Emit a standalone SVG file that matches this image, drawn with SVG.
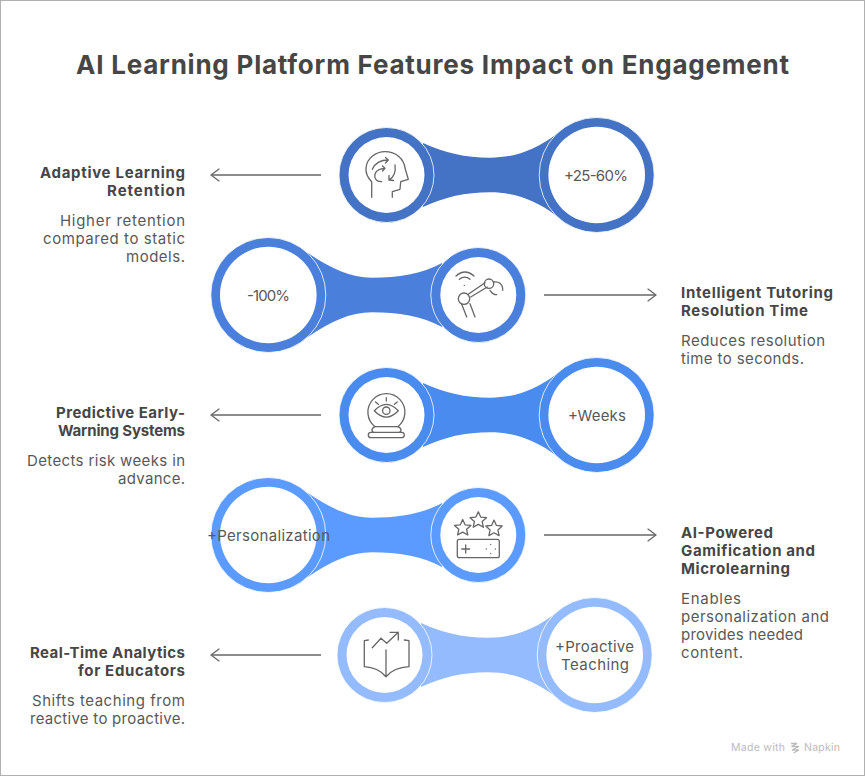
<svg xmlns="http://www.w3.org/2000/svg" width="865" height="776" viewBox="0 0 865 776">
<style>
text{font-family:Inter,"Open Sans","Liberation Sans",sans-serif;font-size:15px;fill:#595959}
.title{font-size:26px;font-weight:700;fill:#464646}
.h{font-weight:700;fill:#464646}
.e{text-anchor:end}
.foot{font-size:10.5px;fill:#bbb}
.ic{fill:none;stroke:#666;stroke-width:1.3;stroke-linecap:round;stroke-linejoin:round}
.arrow{fill:none;stroke:#666;stroke-width:1.3;marker-end:url(#head)}
.edge{stroke:#fff;stroke-width:.8}
.hole{fill:#fff}
.a{fill:#4472c4}.b{fill:#4a80dc}.d{fill:#4a8bf0}.f{fill:#5b9bff}.g{fill:#93bbfd}
</style>
<defs>
<marker id="head" viewBox="0 0 10 14" refX="9.4" refY="7" markerWidth="10" markerHeight="14" markerUnits="userSpaceOnUse" orient="auto"><path d="M1 .8 9.4 7 1 13.200" fill="none" stroke="#666" stroke-width="1.300"/></marker>
</defs>
<rect width="865" height="776" fill="#fff"/>
<rect x=".5" y=".5" width="864" height="775" fill="none" stroke="#b0b0b0"/>
<text class="title" x="76" y="74" textLength="713">AI Learning Platform Features Impact on Engagement</text>

<g id="connectors">
<path class="a" d="M423 143C445 153 465 157.700 490 157.700C515 157.700 535 150 557 134V216C535 200 515 192.300 490 192.300C465 192.300 445 197 423 207Z"/>
<path class="b" d="M308 253C330 268 350 277.700 372 277.700C398 277.700 422 274 442 263V327C422 316 398 312.300 372 312.300C350 312.300 330 322 308 337Z"/>
<path class="d" d="M423 383C445 393 465 397.700 490 397.700C515 397.700 535 390 557 374V456C535 440 515 432.300 490 432.300C465 432.300 445 437 423 447Z"/>
<path class="f" d="M308 493C330 508 350 517.700 372 517.700C398 517.700 422 514 442 503V567C422 556 398 552.300 372 552.300C350 552.300 330 562 308 577Z"/>
<path class="g" d="M421 623C443 633 463 637.700 488 637.700C513 637.700 533 630 555 614V696C533 680 513 672.300 488 672.300C463 672.300 443 677 421 687Z"/>
<path class="arrow" d="M321 175H211"/>
<path class="arrow" d="M544 295H656"/>
<path class="arrow" d="M321 415H211"/>
<path class="arrow" d="M544 535H656"/>
<path class="arrow" d="M321 655H211"/>
</g>

<g id="node-adaptive">
<circle class="a edge" cx="386.500" cy="175" r="47.500"/><circle class="hole" cx="386.500" cy="175" r="38"/>
<circle class="a edge" cx="596.700" cy="175" r="57.500"/><circle class="hole" cx="596.700" cy="175" r="48.300"/>
<path class="ic" d="M371.700 197.300V181.700C367 177 365.500 173 366 168C367 158 376 151.700 385 151.700C396 151.700 404 159 405 168L408.300 179.300L400.700 181.700L400 189.300L392.300 191.700V197.300"/>
<path class="ic" d="M372.300 169.300C375 163 381 160 388.300 160M385.500 157.500 388.300 160 385.500 163M395 165C396 172 394 177 389 180M389 175.500V180L393.500 180.500M381.700 181.700C376 182 374 178 375 174C376 171 380 168.500 385 168.300M382.500 166 385 168.300 382.500 171"/>
<text x="564" y="181" textLength="64">+25-60%</text>
<text class="h e" x="185" y="178" textLength="145">Adaptive Learning</text>
<text class="h e" x="185" y="196" textLength="78">Retention</text>
<text class="e" x="185" y="226" textLength="125">Higher retention</text>
<text class="e" x="185" y="244" textLength="142">compared to static</text>
<text class="e" x="185" y="262" textLength="59">models.</text>
</g>

<g id="node-tutoring">
<circle class="b edge" cx="268.300" cy="295" r="57.500"/><circle class="hole" cx="268.300" cy="295" r="48.300"/>
<circle class="b edge" cx="478.300" cy="295" r="47.500"/><circle class="hole" cx="478.300" cy="295" r="38"/>
<path class="ic" d="M456 276Q465 268 474 276M459.300 279.300Q465 275 470 279.300M464.300 285.300V285.400"/>
<circle class="ic" cx="464" cy="298.700" r="5.700"/><circle class="ic" cx="489" cy="283.700" r="4.700"/>
<path class="ic" d="M468.300 294.300 485 282.700M470.700 297 487.300 287M461.700 304.300 466.700 317M470 303.700 475 317M493.300 282C499 281 503 284 502.700 290.300M490 290.300Q493 295 496.700 294.700"/>
<text x="247" y="301" textLength="43">-100%</text>
<text class="h" x="681" y="298" textLength="152">Intelligent Tutoring</text>
<text class="h" x="681" y="316" textLength="127">Resolution Time</text>
<text x="681" y="346" textLength="144">Reduces resolution</text>
<text x="681" y="364" textLength="123">time to seconds.</text>
</g>

<g id="node-predictive">
<circle class="d edge" cx="386.500" cy="415" r="47.500"/><circle class="hole" cx="386.500" cy="415" r="38"/>
<circle class="d edge" cx="596.700" cy="415" r="57.500"/><circle class="hole" cx="596.700" cy="415" r="48.300"/>
<path class="ic" d="M375 426.700A18.500 18.500 0 1 1 397.800 426.700"/>
<path class="ic" d="M374.300 410.700Q386.300 398 398.300 410.700Q386.300 423.400 374.300 410.700Z"/>
<circle class="ic" cx="386.300" cy="410.700" r="3.700"/>
<path class="ic" d="M375.500 402 378.300 404.300M386.300 397.700V401M397.200 402 394.400 404.300"/>
<path class="ic" d="M375 426.700Q372 428 372 430Q372 432.300 374 432.300M397.800 426.700Q401 428 401 430Q401 432.300 399 432.300M375 426.700H397.800"/>
<rect class="ic" x="368.300" y="432.300" width="36" height="5.400" rx="2.700"/>
<text x="568" y="421" textLength="58">+Weeks</text>
<text class="h e" x="185" y="418" textLength="129">Predictive Early-</text>
<text class="h e" x="185" y="436" textLength="127">Warning Systems</text>
<text class="e" x="185" y="466" textLength="158">Detects risk weeks in</text>
<text class="e" x="185" y="484" textLength="67">advance.</text>
</g>

<g id="node-gamification">
<circle class="f edge" cx="268.300" cy="535" r="57.500"/><circle class="hole" cx="268.300" cy="535" r="48.300"/>
<circle class="f edge" cx="478.300" cy="535" r="47.500"/><circle class="hole" cx="478.300" cy="535" r="38"/>
<path class="ic" d="M462.700 519.500 465.100 524.800 470.900 525.400 466.600 529.300 467.800 535 462.700 532.100 457.600 535 458.800 529.300 454.500 525.400 460.300 524.800Z"/>
<path class="ic" d="M478.300 511.800 480.700 517.100 486.500 517.700 482.200 521.600 483.400 527.300 478.300 524.400 473.200 527.300 474.400 521.600 470.100 517.700 475.900 517.100Z"/>
<path class="ic" d="M494 520.100 496.400 525.400 502.200 526 497.900 529.900 499.100 535.600 494 532.700 488.900 535.600 490.100 529.900 485.800 526 491.600 525.400Z"/>
<rect class="ic" x="457.300" y="539.300" width="42" height="18.400" rx="2"/>
<path class="ic" d="M465.700 545V553M461.700 549H469.700M490.700 544.500V544.600M486.200 549H486.300M495.200 549H495.300M490.700 553.400V553.500"/>
<text x="207" y="541" textLength="123">+Personalization</text>
<text class="h" x="681" y="538" textLength="92">AI-Powered</text>
<text class="h" x="681" y="556" textLength="134">Gamification and</text>
<text class="h" x="681" y="574" textLength="109">Microlearning</text>
<text x="681" y="604" textLength="60">Enables</text>
<text x="681" y="622" textLength="148">personalization and</text>
<text x="681" y="640" textLength="122">provides needed</text>
<text x="681" y="658" textLength="62">content.</text>
</g>

<g id="node-analytics">
<circle class="g edge" cx="384.500" cy="655" r="47.500"/><circle class="hole" cx="384.500" cy="655" r="38"/>
<circle class="g edge" cx="594.700" cy="655" r="57.500"/><circle class="hole" cx="594.700" cy="655" r="48.300"/>
<path class="ic" d="M368.300 640 364.300 640.700V666.700Q378 667.500 386 676.700Q394 667.500 409 666.700V640.700L404.300 640M386 650V676.700"/>
<path class="ic" d="M372.300 647.700 381 638.300 386.700 643.300 398.300 632.300M390 632.300H398.300V640"/>
<text x="555" y="652" textLength="79">+Proactive</text>
<text x="561" y="670" textLength="68">Teaching</text>
<text class="h e" x="185" y="658" textLength="155">Real-Time Analytics</text>
<text class="h e" x="185" y="676" textLength="107">for Educators</text>
<text class="e" x="185" y="706" textLength="153">Shifts teaching from</text>
<text class="e" x="185" y="724" textLength="155">reactive to proactive.</text>
</g>

<g id="footer">
<text class="foot" x="731" y="751" textLength="54">Made with</text>
<path d="M791 743.500H797L791.500 746.500H799L792 750H799L793.500 753" fill="none" stroke="#bbb" stroke-width="1.300"/>
<text class="foot" x="804" y="751" textLength="36">Napkin</text>
</g>
</svg>
